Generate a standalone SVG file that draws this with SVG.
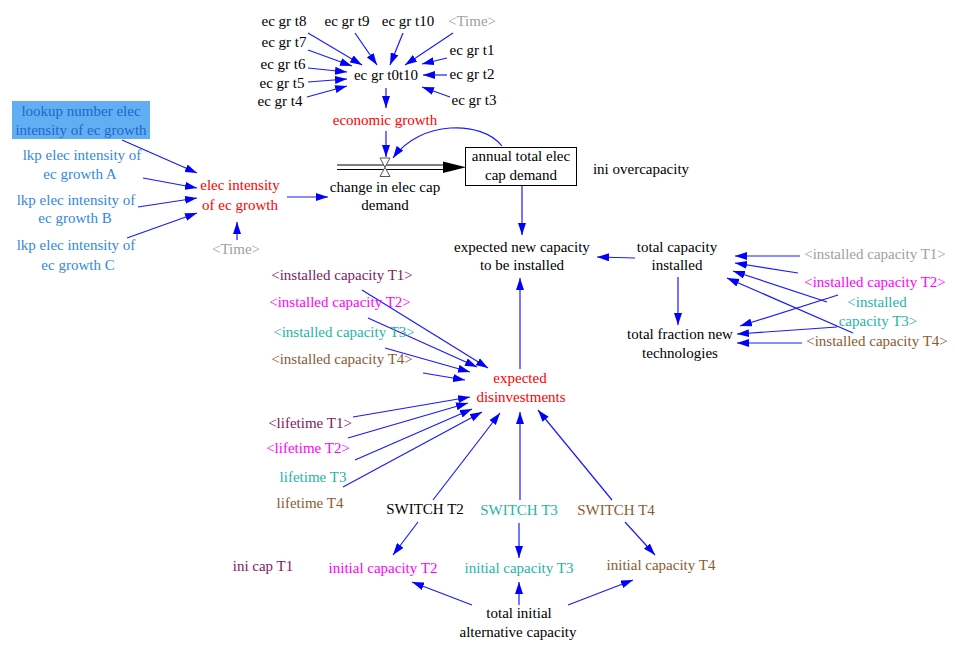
<svg xmlns="http://www.w3.org/2000/svg" width="955" height="647" viewBox="0 0 955 647">
  <style>
    text { font-family: "Liberation Serif", "Times New Roman", serif; font-size: 15px; text-anchor: middle; fill: #000; }
    .red { fill: #ff0000; }
    .gray { fill: #a0a0a0; }
    .mag { fill: #ff00ff; }
    .teal { fill: #1fb5a5; }
    .brown { fill: #8c5a32; }
    .purple { fill: #802060; }
    .lblue { fill: #3388dd; }
    .link { fill: none; stroke: #1a1aff; stroke-width: 1.2; marker-end: url(#ah); }
    .pipe { fill: none; stroke: #000; stroke-width: 1; }
  </style>
  <defs>
    <marker id="ah" viewBox="0 0 12 8" refX="12" refY="4" markerWidth="12" markerHeight="8" orient="auto" markerUnits="userSpaceOnUse">
      <path d="M0,0 L12,4 L0,8 z" fill="#0000ff"/>
    </marker>
  </defs>
  <rect width="955" height="647" fill="#ffffff"/>

  <!-- connectors -->
  <g id="connectors">
    <!-- into ec gr t0t10 -->
    <path class="link" d="M308,33 L362,65"/>
    <path class="link" d="M355,33 L377,65"/>
    <path class="link" d="M403,33 L390,65"/>
    <path class="link" d="M453,33 L405,65"/>
    <path class="link" d="M308,50 L352,66"/>
    <path class="link" d="M447,58 L422,64"/>
    <path class="link" d="M308,68 L347,72"/>
    <path class="link" d="M447,75 L423,75"/>
    <path class="link" d="M308,82 L347,79"/>
    <path class="link" d="M307,97 L347,86"/>
    <path class="link" d="M450,97 L422,87"/>
    <path class="link" d="M386,88 L386,108"/>
    <!-- elec intensity -->
    <path class="link" d="M122,140 L197,173"/>
    <path class="link" d="M143,178 L197,188"/>
    <path class="link" d="M138,207 L197,198"/>
    <path class="link" d="M127,238 L197,213"/>
    <path class="link" d="M237,240 L237,222"/>
    <path class="link" d="M287,197 L328,197"/>
    <!-- flow control -->
    <path class="link" d="M386,131 L386,157"/>
    <path class="link" d="M502,146 C482,120 420,120 393,158"/>
    <path class="link" d="M522,186 L522,235"/>
    <path class="link" d="M635,258 L597,257"/>
    <path class="link" d="M678,277 L678,325"/>
    <!-- into total capacity installed -->
    <path class="link" d="M800,256 L735,256"/>
    <path class="link" d="M798,273 L735,263"/>
    <path class="link" d="M827,302 L733,271"/>
    <path class="link" d="M853,333 L727,278"/>
    <!-- into total fraction new technologies -->
    <path class="link" d="M838,295 L740,326"/>
    <path class="link" d="M837,327 L737,334"/>
    <path class="link" d="M802,343 L737,343"/>
    <!-- into expected disinvestments -->
    <path class="link" d="M362,290 L488,368"/>
    <path class="link" d="M368,318 L477,367"/>
    <path class="link" d="M385,348 L470,372"/>
    <path class="link" d="M423,373 L465,380"/>
    <path class="link" d="M353,417 L470,397"/>
    <path class="link" d="M348,438 L468,403"/>
    <path class="link" d="M355,460 L472,409"/>
    <path class="link" d="M343,487 L482,412"/>
    <path class="link" d="M433,500 L500,413"/>
    <path class="link" d="M520,500 L520,412"/>
    <path class="link" d="M612,500 L538,410"/>
    <path class="link" d="M520,369 L520,278"/>
    <!-- initial capacities -->
    <path class="link" d="M418,522 L393,555"/>
    <path class="link" d="M519,523 L519,558"/>
    <path class="link" d="M625,522 L655,555"/>
    <path class="link" d="M472,605 L412,582"/>
    <path class="link" d="M519,605 L519,582"/>
    <path class="link" d="M568,605 L633,580"/>
  </g>

  <!-- economic growth sub-model -->
  <g id="ec-gr-t8"><text x="284" y="26">ec gr t8</text></g>
  <g id="ec-gr-t9"><text x="347" y="26">ec gr t9</text></g>
  <g id="ec-gr-t10"><text x="408" y="26">ec gr t10</text></g>
  <g id="time-top"><text class="gray" x="472" y="26">&lt;Time&gt;</text></g>
  <g id="ec-gr-t7"><text x="284" y="47">ec gr t7</text></g>
  <g id="ec-gr-t1"><text x="472" y="55">ec gr t1</text></g>
  <g id="ec-gr-t6"><text x="283" y="69">ec gr t6</text></g>
  <g id="ec-gr-t0t10"><text x="386" y="80">ec gr t0t10</text></g>
  <g id="ec-gr-t2"><text x="472" y="79">ec gr t2</text></g>
  <g id="ec-gr-t5"><text x="282" y="88">ec gr t5</text></g>
  <g id="ec-gr-t4"><text x="280" y="106">ec gr t4</text></g>
  <g id="ec-gr-t3"><text x="474" y="105">ec gr t3</text></g>
  <g id="economic-growth"><text class="red" x="385" y="125">economic growth</text></g>

  <!-- electricity intensity -->
  <g id="lookup-number">
    <rect x="12" y="101" width="138" height="38" fill="#62aef2"/>
    <text x="81" y="116" fill="#2266cc" style="fill:#2266cc">lookup number elec</text>
    <text x="81" y="135" style="fill:#2266cc">intensity of ec growth</text>
  </g>
  <g id="lkp-a">
    <text class="lblue" x="82" y="160">lkp elec intensity of</text>
    <text class="lblue" x="80" y="179">ec growth A</text>
  </g>
  <g id="lkp-b">
    <text class="lblue" x="76" y="205">lkp elec intensity of</text>
    <text class="lblue" x="75" y="223">ec growth B</text>
  </g>
  <g id="lkp-c">
    <text class="lblue" x="76" y="250">lkp elec intensity of</text>
    <text class="lblue" x="78" y="270">ec growth C</text>
  </g>
  <g id="elec-intensity">
    <text class="red" x="240" y="190">elec intensity</text>
    <text class="red" x="240" y="210">of ec growth</text>
  </g>
  <g id="time-left"><text class="gray" x="236" y="254">&lt;Time&gt;</text></g>

  <!-- flow and stock -->
  <g id="flow-change-in-elec-cap-demand">
    <line class="pipe" x1="337" y1="165" x2="448" y2="165"/>
    <line class="pipe" x1="337" y1="169.5" x2="448" y2="169.5"/>
    <polygon points="443,161.5 466,167.3 443,173" fill="#000"/>
    <polygon points="380,158 390,158 385,167.3" fill="#fff" stroke="#555" stroke-width="1"/>
    <polygon points="380,176.5 390,176.5 385,167.3" fill="#fff" stroke="#555" stroke-width="1"/>
    <text x="385" y="192">change in elec cap</text>
    <text x="385" y="210">demand</text>
  </g>
  <g id="annual-total-elec-cap-demand">
    <rect x="465.5" y="147.5" width="111" height="38" fill="#fff" stroke="#000" stroke-width="1"/>
    <text x="521" y="161">annual total elec</text>
    <text x="521" y="180">cap demand</text>
  </g>
  <g id="ini-overcapacity"><text x="641" y="174">ini overcapacity</text></g>
  <g id="expected-new-capacity">
    <text x="522" y="252">expected new capacity</text>
    <text x="522" y="270">to be installed</text>
  </g>
  <g id="total-capacity-installed">
    <text x="677" y="252">total capacity</text>
    <text x="677" y="270">installed</text>
  </g>
  <g id="total-fraction-new">
    <text x="680" y="339">total fraction new</text>
    <text x="680" y="358">technologies</text>
  </g>
  <g id="installed-t1-right"><text class="gray" x="875" y="259">&lt;installed capacity T1&gt;</text></g>
  <g id="installed-t2-right"><text class="mag" x="875" y="287">&lt;installed capacity T2&gt;</text></g>
  <g id="installed-t3-right">
    <text class="teal" x="877" y="307">&lt;installed</text>
    <text class="teal" x="878" y="326">capacity T3&gt;</text>
  </g>
  <g id="installed-t4-right"><text class="brown" x="877" y="346">&lt;installed capacity T4&gt;</text></g>

  <!-- disinvestments -->
  <g id="installed-t1"><text class="purple" x="342" y="280">&lt;installed capacity T1&gt;</text></g>
  <g id="installed-t2"><text class="mag" x="340" y="307">&lt;installed capacity T2&gt;</text></g>
  <g id="installed-t3"><text class="teal" x="344" y="337">&lt;installed capacity T3&gt;</text></g>
  <g id="installed-t4"><text class="brown" x="342" y="364">&lt;installed capacity T4&gt;</text></g>
  <g id="expected-disinvestments">
    <text class="red" x="520" y="383">expected</text>
    <text class="red" x="521" y="402">disinvestments</text>
  </g>
  <g id="lifetime-t1"><text class="purple" x="310" y="428">&lt;lifetime T1&gt;</text></g>
  <g id="lifetime-t2"><text class="mag" x="308" y="453">&lt;lifetime T2&gt;</text></g>
  <g id="lifetime-t3"><text class="teal" x="313" y="482">lifetime T3</text></g>
  <g id="lifetime-t4"><text class="brown" x="310" y="508">lifetime T4</text></g>
  <g id="switch-t2"><text x="425" y="514">SWITCH T2</text></g>
  <g id="switch-t3"><text class="teal" x="519" y="515">SWITCH T3</text></g>
  <g id="switch-t4"><text class="brown" x="616" y="515">SWITCH T4</text></g>

  <!-- initial capacities -->
  <g id="ini-cap-t1"><text class="purple" x="263" y="571">ini cap T1</text></g>
  <g id="initial-capacity-t2"><text class="mag" x="383" y="573">initial capacity T2</text></g>
  <g id="initial-capacity-t3"><text class="teal" x="519" y="573">initial capacity T3</text></g>
  <g id="initial-capacity-t4"><text class="brown" x="661" y="570">initial capacity T4</text></g>
  <g id="total-initial-alternative-capacity">
    <text x="519" y="618">total initial</text>
    <text x="518" y="637">alternative capacity</text>
  </g>
</svg>
